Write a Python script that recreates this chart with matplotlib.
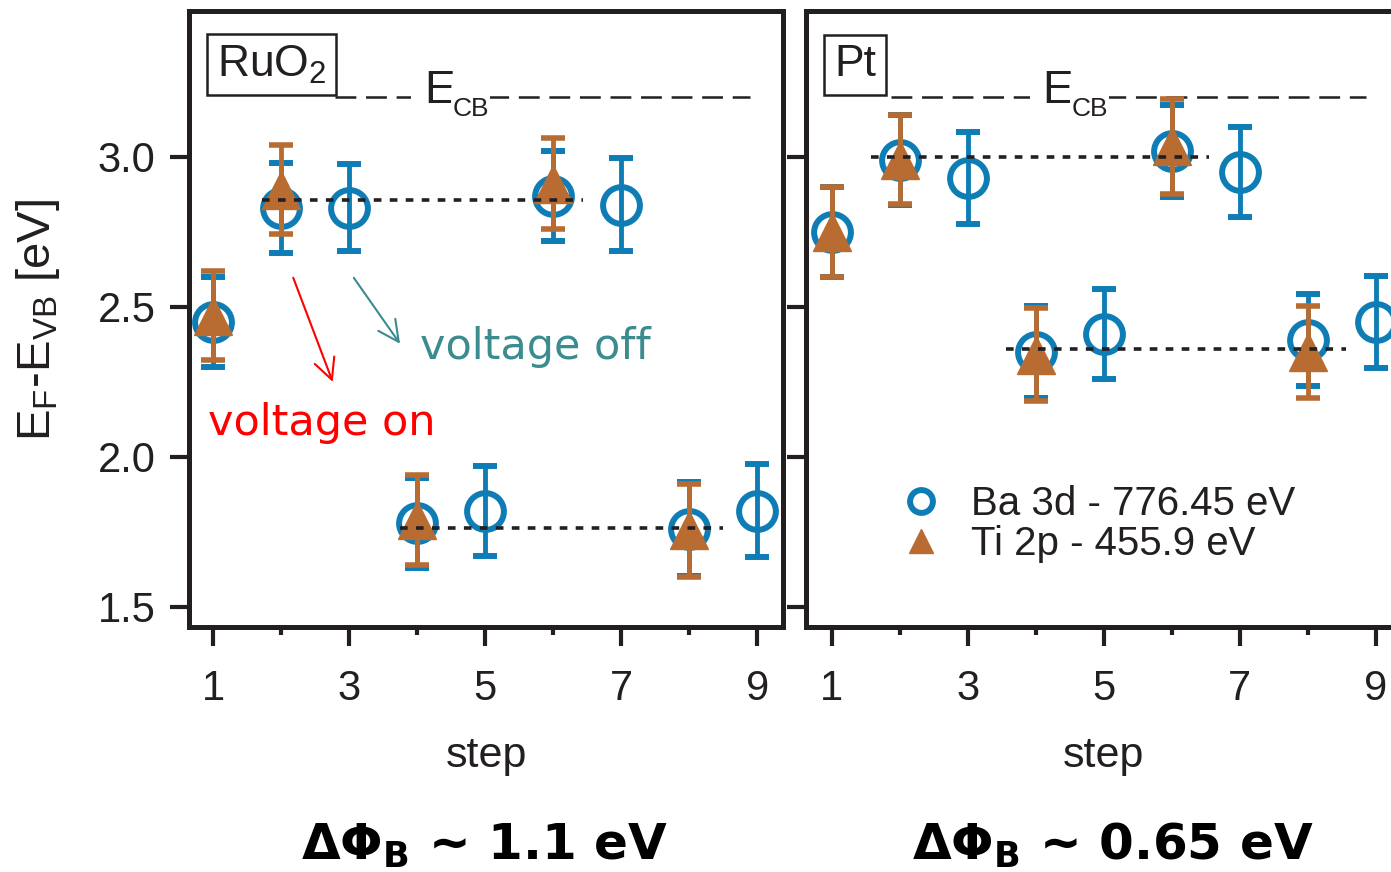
import matplotlib.pyplot as plt
from matplotlib.ticker import FixedLocator, MultipleLocator

plt.rcParams['font.family'] = ['Liberation Sans', 'DejaVu Sans']
plt.rcParams['mathtext.default'] = 'regular'
plt.rcParams['lines.scale_dashes'] = False

steps = [1, 2, 3, 4, 5, 6, 7, 8, 9]
ti_steps = [1, 2, 4, 6, 8]

# RuO2 contact: E_F - E_VB from Ba 3d and Ti 2p core levels
ruo2_ba = [2.45, 2.83, 2.83, 1.78, 1.82, 2.87, 2.84, 1.76, 1.82]
ruo2_ba_err = [0.15, 0.15, 0.145, 0.15, 0.15, 0.15, 0.155, 0.157, 0.155]
ruo2_ti = [2.47, 2.89, 1.79, 2.91, 1.755]
ruo2_ti_err = [0.148, 0.148, 0.15, 0.152, 0.156]

# Pt contact
pt_ba = [2.75, 2.99, 2.93, 2.35, 2.41, 3.02, 2.95, 2.39, 2.45]
pt_ba_err = [0.15, 0.15, 0.153, 0.153, 0.15, 0.153, 0.15, 0.153, 0.153]
pt_ti = [2.75, 2.99, 2.34, 3.035, 2.35]
pt_ti_err = [0.15, 0.148, 0.155, 0.158, 0.152]

# dotted guide levels: (level, first step, last step)
ruo2_guides = [(2.857, 1.72, 6.44), (1.763, 3.75, 8.5)]
pt_guides = [(3.0, 1.57, 6.54), (2.36, 3.56, 8.56)]

# conduction band edge
e_cb = 3.2
ruo2_cb_span = (2.79, 8.9)
pt_cb_span = (1.87, 8.85)

BLUE = '#0f7db5'
ORANGE = '#b86c32'
INK = '#231f20'

W, H = 1391, 872
fig = plt.figure(figsize=(W / 100, H / 100), dpi=100)


def px_axes(x0, y0, x1, y1):
    return fig.add_axes([x0 / W, 1 - y1 / H, (x1 - x0) / W, (y1 - y0) / H])


ax1 = px_axes(189, 10.5, 783, 627)
ax2 = px_axes(806, 10.5, 1400, 627)


def draw_panel(ax, ba, ba_err, ti, ti_err, guides, cb_span, name):
    hb = ax.errorbar(steps, ba, yerr=ba_err, fmt='o', ms=26.5, mfc='none',
                     mec=BLUE, mew=4.3, ecolor=BLUE, elinewidth=3.5,
                     capsize=8.3, capthick=4, zorder=3)
    ht = ax.errorbar(ti_steps, ti, yerr=ti_err, fmt='^', ms=27, color=ORANGE,
                     ecolor=ORANGE, elinewidth=3.5, capsize=8.3, capthick=4,
                     zorder=4)
    for lvl, x0, x1 in guides:
        ax.plot([x0, x1], [lvl, lvl], color=INK, lw=2.6, dashes=(5.5, 6),
                zorder=5)
    ax.plot(cb_span, [e_cb, e_cb], color=INK, lw=1.8, dashes=(15, 7), zorder=2)
    ax.text(4.1, 3.18, 'E', fontsize=33, color=INK, va='baseline',
            ha='left', zorder=6,
            bbox=dict(fc='white', ec='none', pad=9))
    ax.text(4.52, 3.135, 'CB', fontsize=19, color=INK, va='baseline',
            ha='left', zorder=6,
            bbox=dict(fc='white', ec='none', pad=1))
    ax.text(0.047, 0.893, name, transform=ax.transAxes, fontsize=32,
            color=INK, va='baseline', ha='left',
            bbox=dict(boxstyle='square,pad=0.22', fc='white', ec=INK, lw=1.8))

    ax.set_xlim(0.647, 9.38)
    ax.set_ylim(1.433, 3.488)
    ax.xaxis.set_major_locator(FixedLocator([1, 3, 5, 7, 9]))
    ax.xaxis.set_minor_locator(FixedLocator([2, 4, 6, 8]))
    ax.yaxis.set_major_locator(MultipleLocator(0.5))
    ax.tick_params(axis='both', which='major', direction='out', length=14,
                   width=3, color=INK, labelsize=30, labelcolor=INK)
    ax.tick_params(axis='x', which='major', pad=16)
    ax.tick_params(axis='y', which='major', pad=10)
    ax.tick_params(axis='x', which='minor', direction='out', length=6,
                   width=3, color=INK)
    for s in ax.spines.values():
        s.set_linewidth(3.6)
        s.set_color(INK)
    ax.set_xlabel('step', fontsize=31, color=INK, labelpad=20)
    return hb, ht


draw_panel(ax1, ruo2_ba, ruo2_ba_err, ruo2_ti, ruo2_ti_err, ruo2_guides,
           ruo2_cb_span, 'RuO$_2$')
hb, ht = draw_panel(ax2, pt_ba, pt_ba_err, pt_ti, pt_ti_err, pt_guides,
                    pt_cb_span, 'Pt')
ax2.set_xlim(0.62, 9.355)
ax2.tick_params(axis='y', labelleft=False)

ax2.legend([hb.lines[0], ht.lines[0]],
           ['Ba 3d - 776.45 eV', 'Ti 2p - 455.9 eV'],
           loc='center left', bbox_to_anchor=(0.098, 0.167), frameon=False,
           fontsize=29, markerscale=0.62, handlelength=1.0,
           handletextpad=0.75, labelspacing=0.05, labelcolor=INK)

# annotations for the switching steps
ax1.annotate('', xy=(2.76, 2.25), xytext=(2.18, 2.597),
             arrowprops=dict(arrowstyle='->,head_length=0.6,head_width=0.3',
                             color='red', lw=1.5, mutation_scale=25,
                             shrinkA=0, shrinkB=0))
ax1.annotate('', xy=(3.75, 2.377), xytext=(3.07, 2.597),
             arrowprops=dict(arrowstyle='->,head_length=0.6,head_width=0.3',
                             color='#3a8c8f', lw=1.5, mutation_scale=25,
                             shrinkA=0, shrinkB=0))
ax1.text(4.04, 2.327, 'voltage off', color='#3a8c8f', fontsize=31,
         family='DejaVu Sans', va='baseline', ha='left')
ax1.text(0.93, 2.073, 'voltage on', color='red', fontsize=31,
         family='DejaVu Sans', va='baseline', ha='left')

fig.text(38 / W, 1 - 320 / H, 'E$_F$-E$_{VB}$ [eV]', rotation=90,
         ha='center', va='center', fontsize=34, color=INK)

fig.text(484 / W, 1 - 860 / H, 'ΔΦ$_B$ ~ 1.1 eV', ha='center',
         va='baseline', family='DejaVu Sans', weight='bold', fontsize=36)
fig.text(1113 / W, 1 - 860 / H, 'ΔΦ$_B$ ~ 0.65 eV', ha='center',
         va='baseline', family='DejaVu Sans', weight='bold', fontsize=36)

fig.savefig('out.png', dpi=100)
